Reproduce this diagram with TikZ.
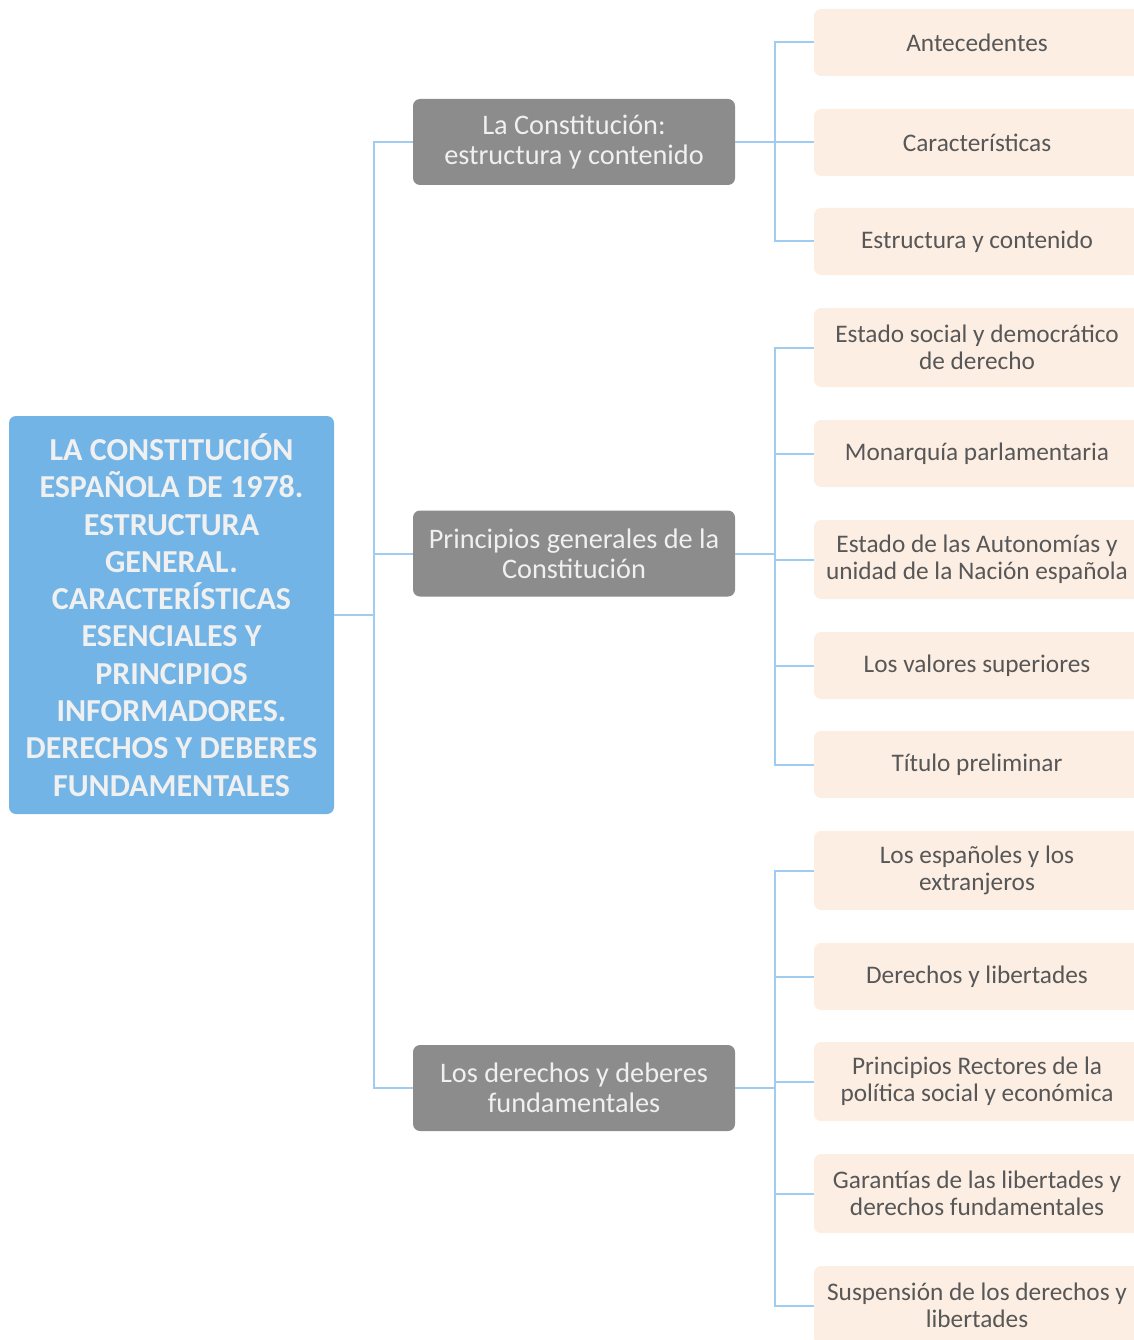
\documentclass[tikz,border=0pt]{standalone}
\usepackage{fontspec}
\setmainfont{Carlito}
\usetikzlibrary{positioning}
\definecolor{rootblue}{HTML}{72B4E6}
\definecolor{midgray}{HTML}{8C8C8C}
\definecolor{leafpeach}{HTML}{FDEEE3}
\definecolor{linkblue}{HTML}{9FCCF0}
\definecolor{leaftext}{HTML}{575757}
\tikzset{
  rootbox/.style={fill=rootblue,rounded corners=7pt,minimum width=325pt,minimum height=398pt,
    align=center,text=white!94!black,font=\fontsize{32}{37.3}\selectfont\bfseries},
  midbox/.style={fill=midgray,rounded corners=7pt,minimum width=322pt,minimum height=86pt,
    align=center,text=white!94!black,font=\fontsize{28.3}{30}\selectfont},
  leafbox/.style={fill=leafpeach,rounded corners=7pt,minimum width=326pt,minimum height=67pt,
    align=center,text=leaftext,font=\fontsize{25.3}{27}\selectfont},
  tallleaf/.style={leafbox,minimum height=79pt},
  link/.style={draw=linkblue,line width=2pt}
}

\begin{document}
\begin{tikzpicture}[x=1pt,y=-1pt]
  \useasboundingbox (0,0) rectangle (1134,1340);
  \clip (0,0) rectangle (1134,1340);
  % root
  \node[rootbox] (root) at (171.5,615) {LA CONSTITUCIÓN\\ESPAÑOLA DE 1978.\\ESTRUCTURA\\GENERAL.\\CARACTERÍSTICAS\\ESENCIALES Y\\PRINCIPIOS\\INFORMADORES.\\DERECHOS Y DEBERES\\FUNDAMENTALES};
  % second level
  \node[midbox] (con) at (574,142) {La Constitución:\\estructura y contenido};
  \node[midbox] (pri) at (574,553.5) {Principios generales de la\\Constitución};
  \node[midbox] (der) at (574,1088) {Los derechos y deberes\\fundamentales};
  % leaves
  \node[leafbox] (ante) at (977,42.5) {Antecedentes};
  \node[leafbox] (cara) at (977,142.5) {Características};
  \node[leafbox] (estr) at (977,241.5) {Estructura y contenido};
  \node[tallleaf] (esoc) at (977,347.5) {Estado social y democrático\\de derecho};
  \node[leafbox] (mona) at (977,453.5) {Monarquía parlamentaria};
  \node[tallleaf] (auto) at (977,559.5) {Estado de las Autonomías y\\unidad de la Nación española};
  \node[leafbox] (valo) at (977,665.5) {Los valores superiores};
  \node[leafbox] (titu) at (977,764.5) {Título preliminar};
  \node[tallleaf] (espa) at (977,870.5) {Los españoles y los\\extranjeros};
  \node[leafbox] (dyl) at (977,976.5) {Derechos y libertades};
  \node[tallleaf] (rect) at (977,1081.5) {Principios Rectores de la\\política social y económica};
  \node[tallleaf] (gara) at (977,1193.5) {Garantías de las libertades y\\derechos fundamentales};
  \node[tallleaf] (susp) at (977,1305.5) {Suspensión de los derechos y\\libertades};
  % connectors
  \coordinate (t0) at (374,615);
  \coordinate (t1) at (775,142);
  \coordinate (t2) at (775,553.5);
  \coordinate (t3) at (775,1088);
  \draw[link] (root.east) -- (t0);
  \foreach \m in {con,pri,der} \draw[link] (t0) |- (\m.west);
  \draw[link] (con.east) -- (t1);
  \draw[link] (pri.east) -- (t2);
  \draw[link] (der.east) -- (t3);
  \foreach \l in {ante,cara,estr} \draw[link] (t1) |- (\l.west);
  \foreach \l in {esoc,mona,auto,valo,titu} \draw[link] (t2) |- (\l.west);
  \foreach \l in {espa,dyl,rect,gara,susp} \draw[link] (t3) |- (\l.west);
\end{tikzpicture}
\end{document}
